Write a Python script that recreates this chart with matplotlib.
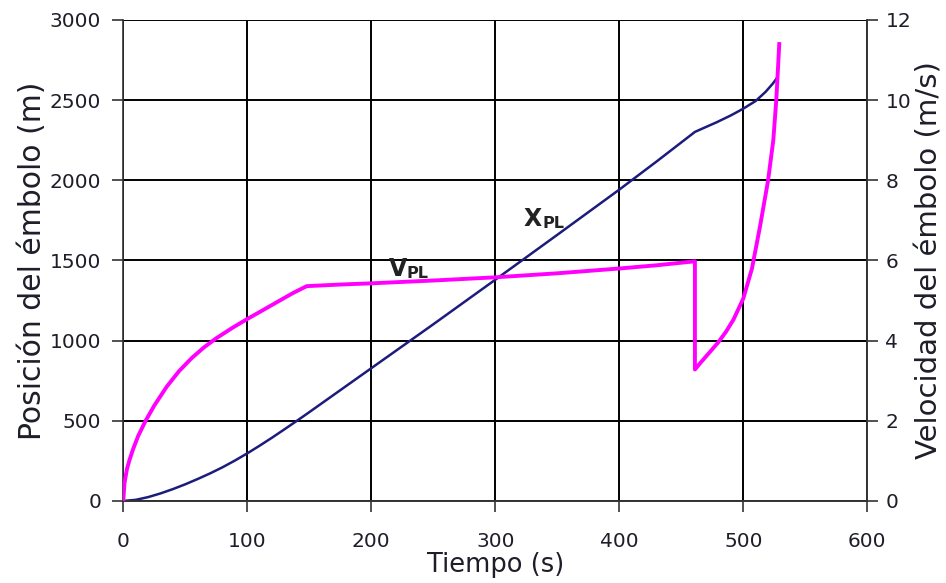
import matplotlib
matplotlib.use("Agg")
import matplotlib.pyplot as plt

# position of the plunger (m) vs time (s)
t_pos = [0, 10, 20, 30, 40, 50, 60, 70, 80, 90, 100, 110, 120, 130, 140, 148,
         200, 250, 300, 350, 400, 430, 461,
         470, 478.5, 490, 500, 510, 518, 524, 527.5]
x_pos = [0, 7, 24, 47, 74, 104, 137, 172, 210, 252, 297, 345, 395, 447, 500, 543,
         828, 1102, 1380, 1660, 1942, 2117, 2302,
         2333, 2362, 2405, 2447, 2495, 2552, 2605, 2642]

# velocity of the plunger (m/s) vs time (s)
t_vel = [0, 1, 3, 5, 8, 12, 18, 25, 35, 45, 55, 65, 75, 88, 100, 112, 125, 137, 148,
         175, 200, 250, 300, 350, 400, 430, 461,
         461, 465, 472, 479.6, 486, 492, 500, 507, 513.5, 520, 524.2, 526.6, 528, 529]
v_vel = [0, 0.45, 0.8, 1.02, 1.3, 1.62, 2.0, 2.38, 2.85, 3.24, 3.56, 3.83, 4.06, 4.32, 4.54,
         4.75, 4.98, 5.19, 5.36,
         5.40, 5.43, 5.5, 5.58, 5.68, 5.8, 5.88, 5.98,
         3.28, 3.43, 3.68, 3.95, 4.22, 4.52, 5.05, 5.8, 6.85, 8.0, 9.0, 10.0, 10.8, 11.4]

x_ticks = [0, 100, 200, 300, 400, 500, 600]
pos_ticks = [0, 500, 1000, 1500, 2000, 2500, 3000]
vel_ticks = [0, 2, 4, 6, 8, 10, 12]

plt.rcParams['font.family'] = ['DejaVu Sans']
txt_color = '#1e1e2a'

fig = plt.figure(figsize=(9.46, 5.83), dpi=100)
ax = fig.add_axes([0.1303, 0.1407, 0.7865, 0.825])
ax2 = ax.twinx()

ax.plot(t_pos, x_pos, color='#1c1c7c', lw=1.8, zorder=3)
ax2.plot(t_vel, v_vel, color='#ff00ff', lw=2.8, zorder=3, solid_joinstyle='round')

ax.set_xlim(0, 600)
ax.set_ylim(0, 3000)
ax2.set_ylim(0, 12)
ax.set_xticks(x_ticks)
ax.set_yticks(pos_ticks)
ax2.set_yticks(vel_ticks)

ax.grid(True, color='black', lw=1.4)
ax.set_axisbelow(True)
for a in (ax, ax2):
    a.tick_params(labelsize=14.5, length=8, width=1.2, color='#333333',
                  labelcolor=txt_color, direction='out')
    for s in a.spines.values():
        s.set_color('#333333')
        s.set_linewidth(1.2)
    a.spines['top'].set_visible(False)
ax2.spines['left'].set_visible(False)
ax.tick_params(axis='y', pad=8)
ax.tick_params(axis='x', pad=14)
ax2.tick_params(axis='y', pad=5)

ax.set_xlabel('Tiempo (s)', fontsize=18.5, labelpad=1, color=txt_color)
ax.set_ylabel('Posición del émbolo (m)', fontsize=21.5, labelpad=2, color=txt_color)
ax2.set_ylabel('Velocidad del émbolo (m/s)', fontsize=21, labelpad=3, color=txt_color)

# curve labels: big letter with smaller "PL" suffix
tx = ax.text(323, 1714, 'X', fontsize=17, fontweight='bold', color='#222222',
             ha='left', va='baseline')
ax.annotate('PL', xy=(1, 0), xycoords=tx, fontsize=11.5, fontweight='bold',
            color='#222222', ha='left', va='bottom')
tv = ax.text(214, 1405, 'V', fontsize=17, fontweight='bold', color='#222222',
             ha='left', va='baseline')
ax.annotate('PL', xy=(1, 0), xycoords=tv, fontsize=11.5, fontweight='bold',
            color='#222222', ha='left', va='bottom')

fig.savefig('out.png', dpi=100)
